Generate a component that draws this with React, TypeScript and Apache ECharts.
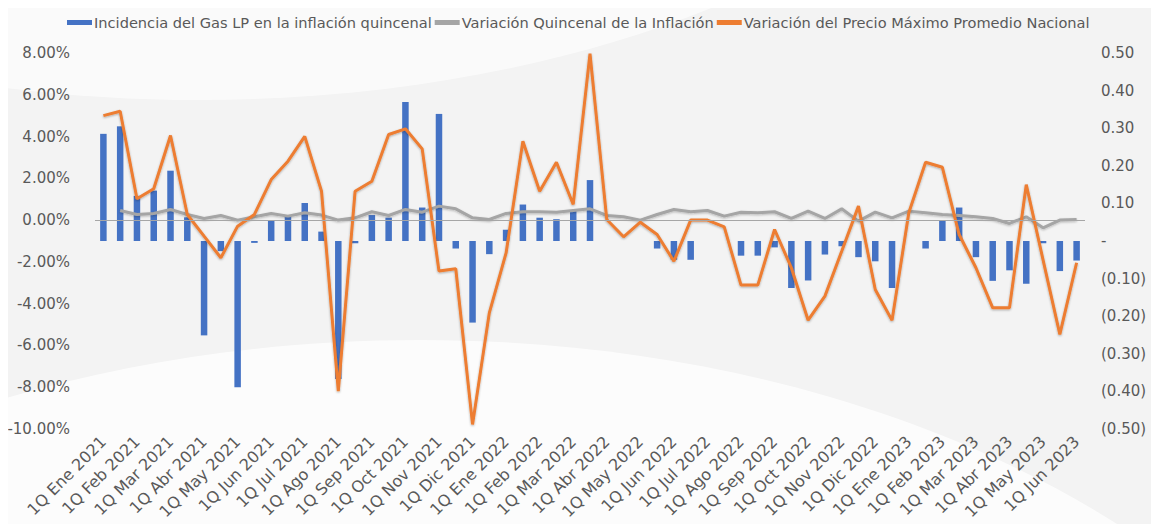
import React, { useEffect, useRef } from "react";
import * as echarts from "echarts";

const categories = [
  "1Q Ene 2021", "2Q Ene 2021", "1Q Feb 2021", "2Q Feb 2021", "1Q Mar 2021", "2Q Mar 2021",
  "1Q Abr 2021", "2Q Abr 2021", "1Q May 2021", "2Q May 2021", "1Q Jun 2021", "2Q Jun 2021",
  "1Q Jul 2021", "2Q Jul 2021", "1Q Ago 2021", "2Q Ago 2021", "1Q Sep 2021", "2Q Sep 2021",
  "1Q Oct 2021", "2Q Oct 2021", "1Q Nov 2021", "2Q Nov 2021", "1Q Dic 2021", "2Q Dic 2021",
  "1Q Ene 2022", "2Q Ene 2022", "1Q Feb 2022", "2Q Feb 2022", "1Q Mar 2022", "2Q Mar 2022",
  "1Q Abr 2022", "2Q Abr 2022", "1Q May 2022", "2Q May 2022", "1Q Jun 2022", "2Q Jun 2022",
  "1Q Jul 2022", "2Q Jul 2022", "1Q Ago 2022", "2Q Ago 2022", "1Q Sep 2022", "2Q Sep 2022",
  "1Q Oct 2022", "2Q Oct 2022", "1Q Nov 2022", "2Q Nov 2022", "1Q Dic 2022", "2Q Dic 2022",
  "1Q Ene 2023", "2Q Ene 2023", "1Q Feb 2023", "2Q Feb 2023", "1Q Mar 2023", "2Q Mar 2023",
  "1Q Abr 2023", "2Q Abr 2023", "1Q May 2023", "2Q May 2023", "1Q Jun 2023",
];

const seriesNames = [
  "Incidencia del Gas LP en la inflación quincenal",
  "Variación Quincenal de la Inflación",
  "Variación del Precio Máximo Promedio Nacional",
];

// Incidencia (eje derecho)
const incidencia = [
  0.285, 0.305, 0.12, 0.134, 0.187, 0.063, -0.251, -0.027, -0.389, -0.005,
  0.054, 0.067, 0.101, 0.025, -0.367, -0.006, 0.069, 0.062, 0.37, 0.089,
  0.338, -0.02, -0.217, -0.035, 0.03, 0.097, 0.062, 0.058, 0.08, 0.162,
  0, 0, 0, -0.02, -0.05, -0.05, 0, 0, -0.039, -0.039,
  -0.017, -0.125, -0.105, -0.036, -0.014, -0.043, -0.054, -0.125, 0, -0.02,
  0.054, 0.089, -0.043, -0.106, -0.078, -0.114, -0.006, -0.08, -0.052,
];

// Variación quincenal de la inflación (eje izquierdo, %)
const inflacion = [
  null, 0.46, 0.27, 0.32, 0.51, 0.27, 0.08, 0.22, 0.0, 0.16,
  0.32, 0.19, 0.35, 0.24, 0.0, 0.11, 0.4, 0.22, 0.51, 0.38,
  0.67, 0.54, 0.11, 0.03, 0.32, 0.4, 0.4, 0.38, 0.46, 0.54,
  0.22, 0.16, 0.0, 0.27, 0.51, 0.4, 0.46, 0.19, 0.38, 0.35,
  0.4, 0.08, 0.43, 0.08, 0.54, -0.05, 0.38, 0.11, 0.43, 0.35,
  0.27, 0.22, 0.16, 0.08, -0.16, 0.16, -0.37, 0.0, 0.03,
];

// Variación del precio máximo promedio nacional (eje izquierdo, %)
const precio = [
  5.0, 5.21, 1.02, 1.5, 4.05, 0.27, -0.77, -1.8, -0.29, 0.27,
  1.94, 2.82, 4.01, 1.38, -8.19, 1.38, 1.86, 4.1, 4.37, 3.41,
  -2.44, -2.33, -9.78, -4.44, -1.57, 3.78, 1.38, 2.77, 0.75, 7.97,
  0.03, -0.8, -0.1, -0.69, -1.97, 0.0, 0.0, -0.32, -3.11, -3.11,
  -0.45, -2.28, -4.79, -3.64, -1.49, 0.67, -3.32, -4.8, 0.35, 2.77,
  2.53, -0.69, -2.28, -4.2, -4.2, 1.7, -1.9, -5.47, -2.04,
];

const FONT = '"DejaVu Sans", sans-serif';
const TXT = "#595959";

export default function App() {
  const ref = useRef<HTMLDivElement>(null);
  useEffect(() => {
    if (!ref.current) return;
    const chart = echarts.init(ref.current, null, { renderer: "svg" });
    chart.setOption({
      animation: false,
      backgroundColor: "#f3f3f3",
      graphic: [
        {
          type: "ellipse",
          silent: true,
          z: -10,
          shape: { cx: 420, cy: 990, rx: 1000, ry: 650 },
          style: { fill: "rgba(255,255,255,0.75)" },
        },
        {
          type: "ellipse",
          silent: true,
          z: -10,
          shape: { cx: 200, cy: -420, rx: 900, ry: 520 },
          style: { fill: "rgba(255,255,255,0.6)" },
        },
      ],
      textStyle: { fontFamily: FONT },
      legend: {
        top: 10,
        left: 62,
        itemWidth: 25,
        itemHeight: 5,
        itemGap: 3,
        textStyle: { fontFamily: FONT, fontSize: 14.6, color: TXT, padding: [0, 0, 0, -3] },
        data: [
          { name: seriesNames[0], icon: "rect" },
          { name: seriesNames[1], icon: "rect" },
          { name: seriesNames[2], icon: "rect" },
        ],
      },
      grid: { left: 95, right: 74, top: 53, bottom: 103, containLabel: false },
      xAxis: {
        type: "category",
        data: categories,
        boundaryGap: true,
        axisLine: { show: false },
        axisTick: { show: false },
        axisLabel: {
          interval: 1,
          rotate: 45,
          margin: 10,
          fontFamily: FONT,
          fontSize: 16,
          color: TXT,
        },
      },
      yAxis: [
        {
          type: "value",
          min: -10,
          max: 8,
          interval: 2,
          position: "left",
          splitLine: { show: false },
          axisLine: { show: false },
          axisTick: { show: false },
          axisLabel: {
            margin: 25,
            fontFamily: FONT,
            fontSize: 15,
            color: TXT,
            formatter: (v: number) => v.toFixed(2) + "%",
          },
        },
        {
          type: "value",
          min: -0.5,
          max: 0.5,
          interval: 0.1,
          position: "right",
          splitLine: { show: false },
          axisLine: { show: false },
          axisTick: { show: false },
          axisLabel: {
            margin: 16,
            fontFamily: FONT,
            fontSize: 15,
            color: TXT,
            formatter: (v: number) => {
              if (Math.abs(v) < 1e-9) return "-";
              if (v < 0) return "(" + Math.abs(v).toFixed(2) + ")";
              return v.toFixed(2);
            },
          },
        },
      ],
      series: [
        {
          name: seriesNames[0],
          type: "bar",
          yAxisIndex: 1,
          data: incidencia,
          barWidth: 6.5,
          itemStyle: { color: "#4472C4" },
          z: 2,
        },
        {
          name: seriesNames[1],
          type: "line",
          yAxisIndex: 0,
          data: inflacion,
          showSymbol: false,
          symbol: "none",
          itemStyle: { color: "#A5A5A5" },
          lineStyle: {
            color: "#A5A5A5",
            width: 3,
            shadowColor: "rgba(0,0,0,0.25)",
            shadowBlur: 2,
            shadowOffsetY: 1,
          },
          markLine: {
            silent: true,
            symbol: ["none", "none"],
            label: { show: false },
            lineStyle: { color: "#A6A6A6", width: 1.2, type: "solid" },
            data: [{ yAxis: 0 }],
          },
          z: 3,
        },
        {
          name: seriesNames[2],
          type: "line",
          yAxisIndex: 0,
          data: precio,
          showSymbol: false,
          symbol: "none",
          itemStyle: { color: "#ED7D31" },
          lineStyle: {
            color: "#ED7D31",
            width: 3,
            shadowColor: "rgba(0,0,0,0.3)",
            shadowBlur: 2,
            shadowOffsetY: 1,
          },
          z: 4,
        },
      ],
    });
    return () => chart.dispose();
  }, []);
  return <div ref={ref} style={{ width: 1159, height: 532, margin: -8 }} />;
}
